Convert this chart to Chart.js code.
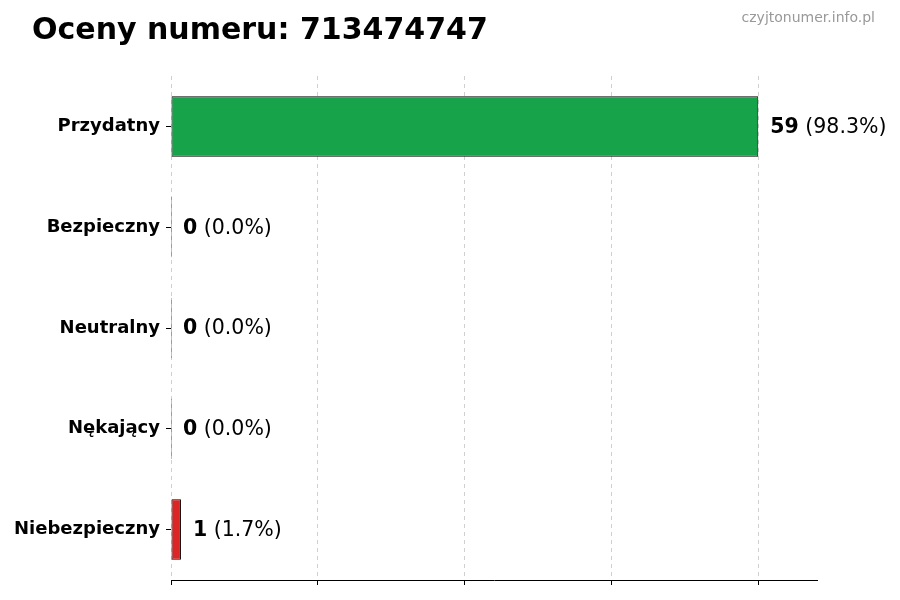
<!DOCTYPE html>
<html>
<head>
<meta charset="utf-8">
<script src="https://cdn.jsdelivr.net/npm/chart.js@4"></script>
<style>
  html, body { margin: 0; padding: 0; background: #fff; }
  #wrap { width: 900px; height: 600px; position: relative; }
</style>
</head>
<body>
<div id="wrap"><canvas id="myChart"></canvas></div>
<script>
const categories = ['Przydatny', 'Bezpieczny', 'Neutralny', 'Nękający', 'Niebezpieczny'];
const counts = [59, 0, 0, 0, 1];
const percents = ['98.3%', '0.0%', '0.0%', '0.0%', '1.7%'];
const barColors = ['#16a34a', '#2563eb', '#9ca3af', '#f59e0b', '#dc2626'];
const xTicks = [0, 14.75, 29.5, 44.25, 59];
const xMax = 64.9;
const titleText = 'Oceny numeru: 713474747';
const watermark = 'czyjtonumer.info.pl';

const FONT = "'DejaVu Sans', sans-serif";

// value labels + title + watermark
const annotate = {
    id: 'annotate',
    afterDatasetsDraw(chart) {
        const ctx = chart.ctx;
        const xs = chart.scales.x;
        const ys = chart.scales.y;
        ctx.save();
        ctx.textBaseline = 'middle';
        counts.forEach((v, i) => {
            const x = xs.getPixelForValue(v) + 12;
            const y = ys.getPixelForValue(i) + 1;
            ctx.font = 'bold 20.5px ' + FONT;
            ctx.fillStyle = '#000';
            ctx.textAlign = 'left';
            const num = String(v);
            ctx.fillText(num, x, y);
            const w = ctx.measureText(num).width;
            ctx.font = '20.5px ' + FONT;
            ctx.fillText(' (' + percents[i] + ')', x + w, y);
        });
        ctx.font = 'bold 30px ' + FONT;
        ctx.fillStyle = '#000';
        ctx.textAlign = 'left';
        ctx.fillText(titleText, 32, 31);
        ctx.font = '14px ' + FONT;
        ctx.fillStyle = '#999999';
        ctx.textAlign = 'right';
        ctx.fillText(watermark, 875, 18);
        ctx.restore();
    }
};

new Chart(document.getElementById('myChart').getContext('2d'), {
    type: 'bar',
    data: {
        labels: categories,
        datasets: [{
            data: counts,
            backgroundColor: barColors,
            borderColor: '#000',
            borderWidth: 1,
            borderSkipped: false,
            minBarLength: 1,
            barPercentage: 0.6,
            categoryPercentage: 1
        }]
    },
    options: {
        indexAxis: 'y',
        responsive: true,
        maintainAspectRatio: false,
        animation: false,
        devicePixelRatio: 1,
        layout: { padding: { left: 0, top: 76, right: 83, bottom: 0 } },
        scales: {
            x: {
                min: 0,
                max: xMax,
                afterBuildTicks(scale) {
                    scale.ticks = xTicks.map(v => ({ value: v }));
                },
                afterFit(scale) { scale.height = 20; },
                ticks: { display: false },
                border: { display: true, color: '#000', width: 1, dash: [4, 4] },
                grid: {
                    color: '#d0d0d0',
                    lineWidth: 1,
                    drawTicks: true,
                    tickLength: 5,
                    tickColor: '#000',
                    tickBorderDash: [],
                    tickWidth: 1
                }
            },
            y: {
                afterFit(scale) { scale.width = 171; },
                border: { display: false },
                grid: {
                    offset: false,
                    drawOnChartArea: false,
                    drawTicks: true,
                    tickLength: 5,
                    tickColor: '#000'
                },
                ticks: {
                    color: '#000',
                    padding: 6,
                    font: { family: FONT, size: 18, weight: 'bold' }
                }
            }
        },
        plugins: {
            legend: { display: false },
            tooltip: { enabled: false }
        }
    },
    plugins: [annotate]
});
</script>
</body>
</html>
